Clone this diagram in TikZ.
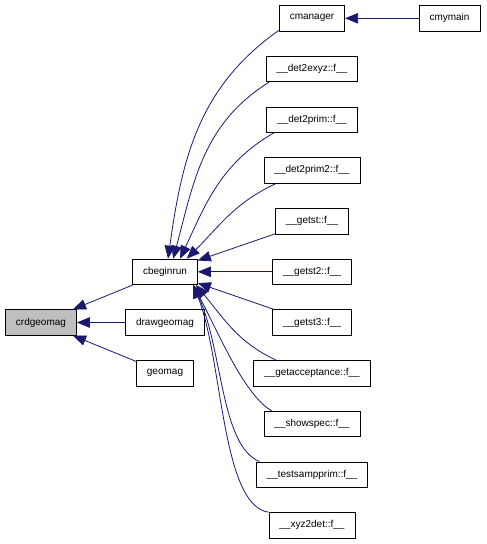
\documentclass[tikz,border=0pt]{standalone}
\usepackage{fontspec}
\setmainfont{Liberation Sans}
\usepackage{xcolor}
\usetikzlibrary{positioning,arrows.meta}
\definecolor{midnight}{RGB}{25,25,112}

\begin{document}
\begin{tikzpicture}[x=1pt, y=1pt, node distance=50.7pt, on grid,
  fn/.style={draw=black, fill=white, line width=0.7pt, inner xsep=10.5pt, inner ysep=0pt,
    minimum height=25.5pt, font=\fontsize{10}{12}\selectfont},
  call/.style={midnight, line width=0.8pt, -{Triangle[length=13pt,width=10.5pt]}}]

\useasboundingbox (0,0) rectangle (487,-544);

\node[fn, fill={rgb,255:red,191;green,191;blue,191}] (crdgeomag) at (41,-322.5) {crdgeomag};
\node[fn] (drawgeomag) [right=124pt of crdgeomag] {drawgeomag};
\node[fn] (cbeginrun) [above=of drawgeomag] {cbeginrun};
\node[fn] (geomag) [below=of drawgeomag] {geomag};

\node[fn] (getst3) [right=147pt of drawgeomag] {\_\_getst3::f\_\_};
\node[fn] (getst2) [above=of getst3] {\_\_getst2::f\_\_};
\node[fn] (getst) [above=of getst2] {\_\_getst::f\_\_};
\node[fn] (det2prim2) [above=of getst] {\_\_det2prim2::f\_\_};
\node[fn] (det2prim) [above=of det2prim2] {\_\_det2prim::f\_\_};
\node[fn] (det2exyz) [above=of det2prim] {\_\_det2exyz::f\_\_};
\node[fn] (cmanager) [above=of det2exyz] {cmanager};
\node[fn] (cmymain) [right=137.5pt of cmanager] {cmymain};
\node[fn] (getacceptance) [below=of getst3] {\_\_getacceptance::f\_\_};
\node[fn] (showspec) [below=of getacceptance] {\_\_showspec::f\_\_};
\node[fn] (testsampprim) [below=of showspec] {\_\_testsampprim::f\_\_};
\node[fn] (xyz2det) [below=of testsampprim] {\_\_xyz2det::f\_\_};


\path[call]
(cbeginrun) edge (crdgeomag)
(drawgeomag) edge (crdgeomag)
(geomag) edge (crdgeomag);


\path[call]
(cmymain) edge (cmanager);


\path[call]
(cmanager.200) edge[out=215, in=82] (cbeginrun.77)
(det2exyz.197) edge[out=212, in=75] (cbeginrun.58)
(det2prim.199) edge[out=210, in=65] (cbeginrun.41)
(det2prim2.200) edge[out=205, in=45] (cbeginrun.31)
(getst) edge (cbeginrun)
(getst2) edge (cbeginrun)
(getst3) edge (cbeginrun);


\path[call]
(getacceptance.160) edge[out=155, in=-50] (cbeginrun.-23)
(showspec.162) edge[out=150, in=-62, out distance=32pt, in distance=55pt] (cbeginrun.-25)
(testsampprim.166) edge[out=158, in=-65, out distance=42pt, in distance=70pt] (cbeginrun.-25)
(xyz2det.north west) edge[out=172, in=-68, out distance=48pt, in distance=80pt] (cbeginrun.-25);

\end{tikzpicture}
\end{document}
